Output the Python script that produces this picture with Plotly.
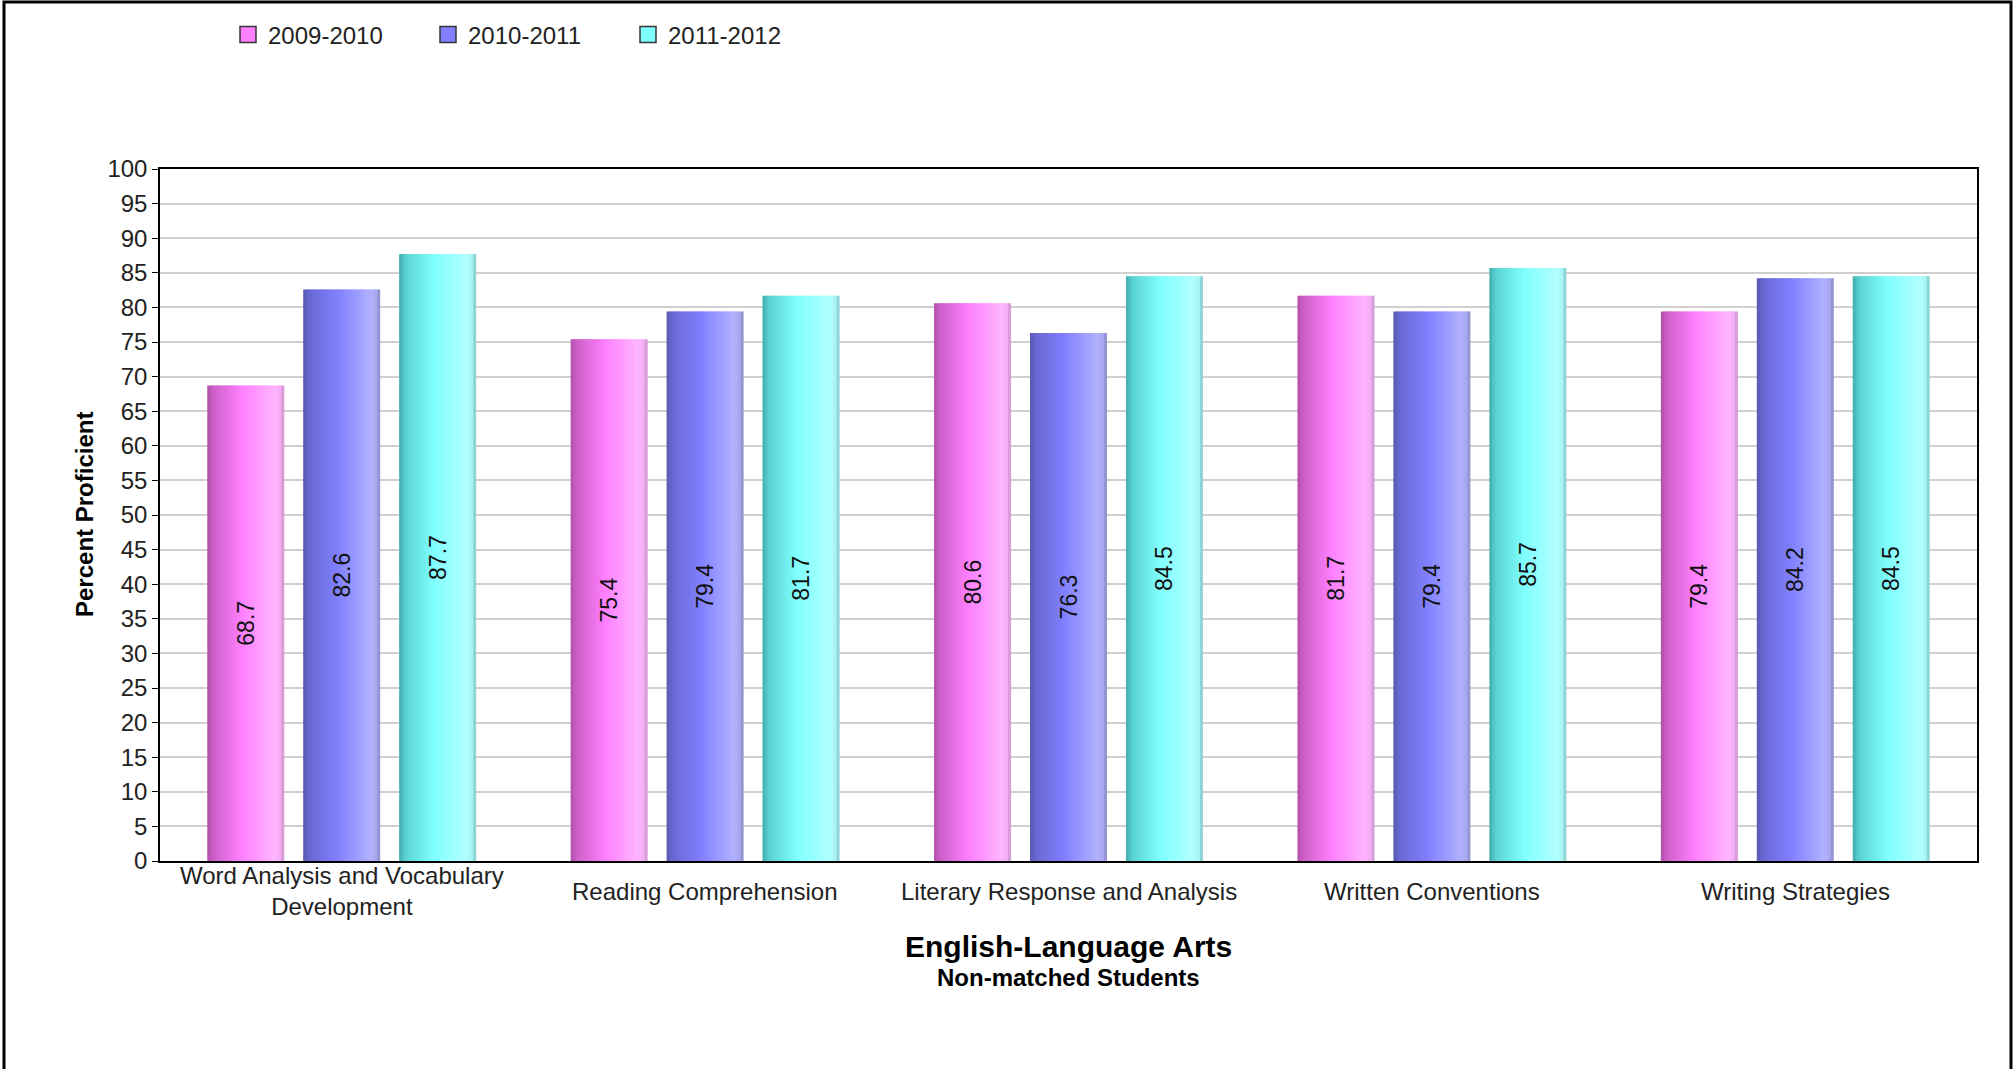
import plotly.graph_objects as go

# ---------------- data ----------------
categories = [
    "Word Analysis and Vocabulary<br>Development",
    "Reading Comprehension",
    "Literary Response and Analysis",
    "Written Conventions",
    "Writing Strategies",
]
series_names = ["2009-2010", "2010-2011", "2011-2012"]
values_2009_2010 = [68.7, 75.4, 80.6, 81.7, 79.4]
values_2010_2011 = [82.6, 79.4, 76.3, 79.4, 84.2]
values_2011_2012 = [87.7, 81.7, 84.5, 85.7, 84.5]
y_tick_values = list(range(0, 101, 5))

all_values = [values_2009_2010, values_2010_2011, values_2011_2012]

# ---------------- styles ----------------
FONT = "Liberation Sans, Arial, sans-serif"
base_colors = ["#ff80ff", "#8080ff", "#80ffff"]
gradients = [
    [(0.0, (176, 80, 168)), (0.08, (205, 95, 200)), (0.45, (255, 128, 255)),
     (0.88, (255, 182, 255)), (0.96, (238, 172, 238)), (1.0, (200, 140, 200))],
    [(0.0, (88, 88, 176)), (0.08, (105, 105, 212)), (0.45, (128, 128, 255)),
     (0.88, (178, 178, 255)), (0.96, (165, 165, 235)), (1.0, (135, 135, 190))],
    [(0.0, (64, 170, 170)), (0.08, (90, 210, 210)), (0.45, (128, 255, 255)),
     (0.88, (178, 255, 255)), (0.96, (165, 240, 240)), (1.0, (120, 190, 190))],
]
N_STRIPES = 26
BAR_W = 0.212      # bar width in category units
SLOT = 0.264       # distance between bar centers within a group


def grad_color(stops, t):
    for (t0, c0), (t1, c1) in zip(stops[:-1], stops[1:]):
        if t0 <= t <= t1:
            f = (t - t0) / (t1 - t0) if t1 > t0 else 0
            c = [round(a + (b - a) * f) for a, b in zip(c0, c1)]
            return "rgb({},{},{})".format(*c)
    c = stops[-1][1]
    return "rgb({},{},{})".format(*c)


fig = go.Figure()

stripe_w = BAR_W / N_STRIPES
for i, (name, vals) in enumerate(zip(series_names, all_values)):
    center = (i - 1) * SLOT
    left = center - BAR_W / 2
    for k in range(N_STRIPES):
        t = (k + 0.5) / N_STRIPES
        w = stripe_w * (1.0 if k == N_STRIPES - 1 else 1.6)
        fig.add_trace(go.Bar(
            x=categories, y=vals,
            width=w, offset=left + k * stripe_w,
            marker=dict(color=grad_color(gradients[i], t), line=dict(width=0)),
            showlegend=False, hoverinfo="skip",
        ))
    # value labels
    fig.add_trace(go.Bar(
        x=categories, y=vals, width=BAR_W, offset=left,
        marker=dict(color="rgba(0,0,0,0)", line=dict(width=0)),
        text=[f"{v:.1f}" for v in vals],
        textposition="inside", insidetextanchor="middle", textangle=-90,
        textfont=dict(family=FONT, size=23, color="#111111"),
        constraintext="none",
        showlegend=False, name=name,
    ))

# legend entries
for name, col in zip(series_names, base_colors):
    fig.add_trace(go.Scatter(
        x=[None], y=[None], mode="markers", name=name,
        marker=dict(symbol="square", size=16, color=col,
                    line=dict(color="#333333", width=1.5)),
    ))

W, H = 2015, 1069
L, R, T, B = 160, 38, 169, 208
pw, ph = W - L - R, H - T - B


def px_x(p):
    return (p - L) / pw


def px_y(p):
    return (H - B - p) / ph


# category labels, vertically centred below the axis
cat_annotations = [
    dict(text=c, xref="x", yref="paper", x=c, y=px_y(891),
         xanchor="center", yanchor="middle", showarrow=False,
         font=dict(family=FONT, size=24, color="#222222"))
    for c in categories
]

fig.update_layout(
    width=W, height=H,
    margin=dict(l=L, r=R, t=T, b=B),
    paper_bgcolor="white", plot_bgcolor="white",
    barmode="overlay",
    font=dict(family=FONT, size=24, color="#222222"),
    legend=dict(
        orientation="h", x=px_x(228), xanchor="left",
        y=px_y(35), yanchor="middle",
        font=dict(family=FONT, size=24, color="#222222"),
        entrywidth=155, entrywidthmode="pixels",
        itemsizing="trace", bgcolor="rgba(0,0,0,0)",
    ),
    xaxis=dict(
        type="category", range=[-0.5, len(categories) - 0.5],
        showline=True, linecolor="black", linewidth=1.5, mirror=True,
        ticks="", showgrid=False, showticklabels=False,
    ),
    yaxis=dict(
        range=[0, 100], tickvals=y_tick_values,
        showline=True, linecolor="black", linewidth=1.5, mirror=True,
        ticks="outside", ticklen=6, tickcolor="black", tickwidth=1,
        showgrid=True, gridcolor="#d0d0d0", gridwidth=1.5,
        zeroline=False,
        tickfont=dict(family=FONT, size=24, color="#222222"),
    ),
    annotations=cat_annotations + [
        dict(text="<b>Percent Proficient</b>", xref="paper", yref="paper",
             x=px_x(84), y=0.5, xanchor="center", yanchor="middle",
             textangle=-90, showarrow=False,
             font=dict(family=FONT, size=24, color="#000000")),
        dict(text="<b>English-Language Arts</b>", xref="paper", yref="paper",
             x=0.5, y=px_y(946), xanchor="center", yanchor="middle",
             showarrow=False, font=dict(family=FONT, size=30, color="#000000")),
        dict(text="<b>Non-matched Students</b>", xref="paper", yref="paper",
             x=0.5, y=px_y(977), xanchor="center", yanchor="middle",
             showarrow=False, font=dict(family=FONT, size=24, color="#000000")),
    ],
    shapes=[
        dict(type="rect", xref="paper", yref="paper",
             x0=px_x(4), x1=px_x(2011), y0=px_y(1200), y1=px_y(2),
             line=dict(color="black", width=3), fillcolor="rgba(0,0,0,0)",
             layer="above"),
    ],
)

fig.write_html(
    "out.html",
    config={"displayModeBar": False},
    post_script="document.body.style.margin='0';document.body.style.overflow='hidden';",
)
